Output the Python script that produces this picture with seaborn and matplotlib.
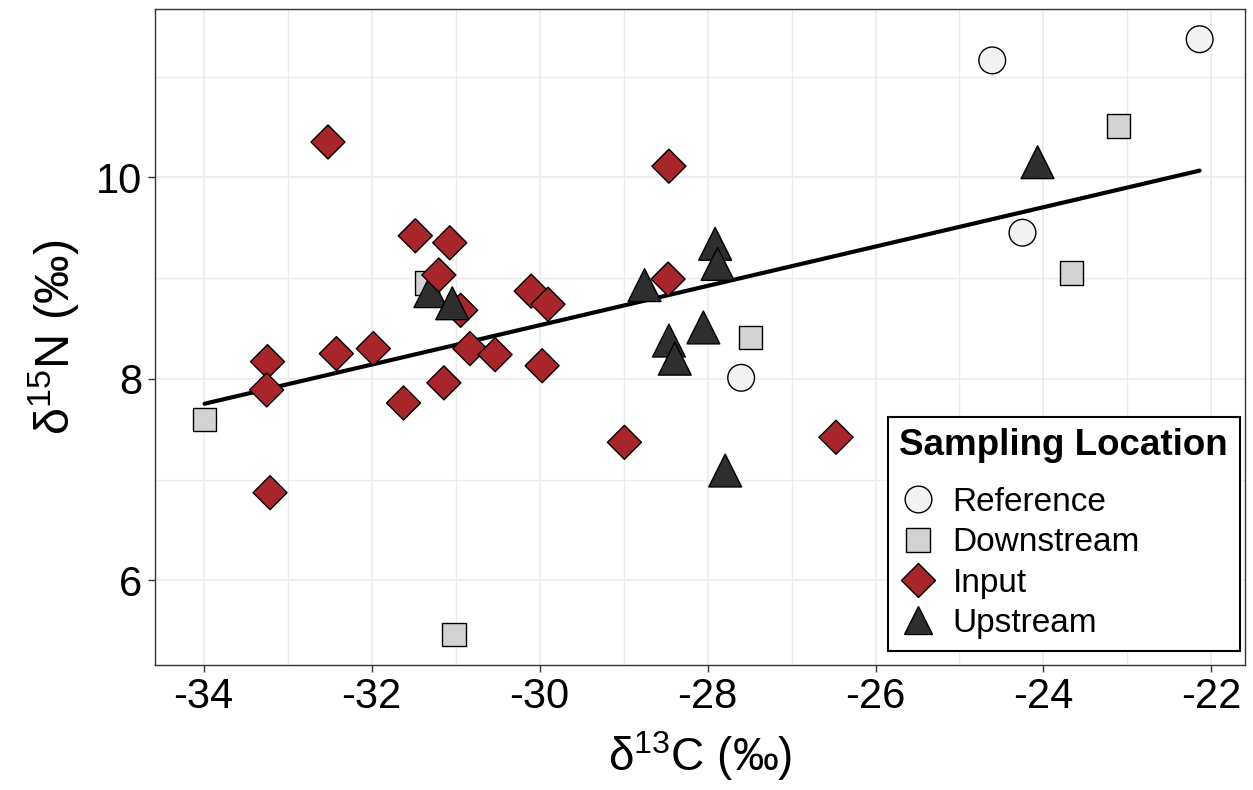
import numpy as np
import pandas as pd
import matplotlib
matplotlib.use("Agg")
import matplotlib.pyplot as plt
from matplotlib.lines import Line2D
from matplotlib.ticker import MultipleLocator
import seaborn as sns

# ---- data (row order = drawing order) ----
location = (["Downstream"] * 6 + ["Reference"] * 4 +
            ["Input"] * 10 +
            ["Upstream", "Input", "Input", "Upstream"] +
            ["Input"] * 6 +
            ["Upstream", "Input"] +
            ["Upstream"] * 7 + ["Input"] * 2)
d13C = [-33.99, -31.34, -27.49, -23.11, -23.67, -31.02,
        -24.61, -22.14, -24.25, -27.60,
        -32.52, -31.48, -31.07, -33.24, -33.25, -32.42, -31.98, -31.62, -31.14, -33.21,
        -31.30, -31.20, -30.94, -31.04,
        -30.10, -29.90, -30.83, -30.53, -29.97, -28.46,
        -28.75, -28.47,
        -28.46, -28.39, -27.91, -27.88, -28.05, -27.79, -24.07,
        -28.99, -26.47]
d15N = [7.60, 8.95, 8.41, 10.51, 9.05, 5.46,
        11.16, 11.37, 9.45, 8.01,
        10.35, 9.42, 9.35, 8.17, 7.89, 8.25, 8.30, 7.76, 7.96, 6.87,
        8.87, 9.03, 8.68, 8.75,
        8.87, 8.74, 8.30, 8.24, 8.13, 10.11,
        8.93, 8.99,
        8.38, 8.20, 9.34, 9.14, 8.51, 7.09, 10.15,
        7.37, 7.42]

levels = ["Reference", "Downstream", "Input", "Upstream"]
fills = {"Reference": "#f2f2f2", "Downstream": "#d3d3d3",
         "Input": "#a8262a", "Upstream": "#2e2e2e"}
markers = {"Reference": "o", "Downstream": "s", "Input": "D", "Upstream": "^"}
sizes = {"Reference": 370, "Downstream": 280, "Input": 300, "Upstream": 560}

df = pd.DataFrame({"Location": location, "d13C": d13C, "d15N": d15N})

sns.set_theme(style="white")
plt.rcParams["font.family"] = ["Liberation Sans", "DejaVu Sans"]
plt.rcParams["mathtext.fontset"] = "custom"
plt.rcParams["mathtext.rm"] = "Liberation Sans"
plt.rcParams["mathtext.it"] = "Liberation Sans:italic"
plt.rcParams["mathtext.bf"] = "Liberation Sans:bold"
plt.rcParams["axes.unicode_minus"] = False
plt.rcParams["text.color"] = "black"
plt.rcParams["axes.labelcolor"] = "black"

fig = plt.figure(figsize=(12.53, 7.90), dpi=100)
ax = fig.add_axes([155 / 1253, 1 - 665 / 790, 1090 / 1253, 656 / 790])

sns.scatterplot(data=df, x="d13C", y="d15N", hue="Location", style="Location",
                size="Location", palette=fills, markers=markers, sizes=sizes,
                hue_order=levels, style_order=levels, size_order=levels,
                edgecolor="black", linewidth=1.0, legend=False, ax=ax, zorder=3)
sns.regplot(data=df, x="d13C", y="d15N", scatter=False, ci=None, color="black",
            line_kws=dict(lw=3.0, zorder=2), ax=ax, truncate=True)

ax.set_xlim(-34.58, -21.6)
ax.set_ylim(5.16, 11.67)
ax.xaxis.set_major_locator(MultipleLocator(2))
ax.xaxis.set_minor_locator(MultipleLocator(1))
ax.yaxis.set_major_locator(MultipleLocator(2))
ax.yaxis.set_minor_locator(MultipleLocator(1))
ax.grid(which="major", color="#ebebeb", lw=1.2, zorder=0)
ax.grid(which="minor", color="#ebebeb", lw=1.0, zorder=0)
ax.set_axisbelow(True)
for s in ax.spines.values():
    s.set_color("#333333")
    s.set_linewidth(1.0)
ax.tick_params(which="major", direction="out", length=5, width=1, color="#333333",
               labelsize=30, labelcolor="black", pad=4, bottom=True, left=True)
ax.tick_params(which="minor", length=0)

ax.set_xlabel("δ$^{\\mathregular{13}}$C (‰)", fontsize=33, labelpad=8, color="black")
ax.set_ylabel("δ$^{\\mathregular{15}}$N (‰)", fontsize=35, labelpad=10, color="black")

handles = [Line2D([], [], ls="none", marker=markers[k], markerfacecolor=fills[k],
                  markeredgecolor="black", markeredgewidth=1.0,
                  markersize=np.sqrt(sizes[k]) * (0.85 if k == "Upstream" else 1.0))
           for k in levels]
leg = ax.legend(handles, levels, title="Sampling Location", loc="lower right",
                bbox_to_anchor=(0.995, 0.022), fontsize=24,
                title_fontproperties={"weight": "bold", "size": 26.5},
                frameon=True, fancybox=False, framealpha=1, edgecolor="black",
                borderpad=0.35, labelspacing=0.28, handletextpad=0.5,
                handlelength=1.1, alignment="left", borderaxespad=0)
leg._legend_box.sep = 17
leg.get_frame().set_linewidth(1.5)
for t in leg.get_texts():
    t.set_color("black")
leg.get_title().set_color("black")

fig.savefig("out.png", dpi=100)
